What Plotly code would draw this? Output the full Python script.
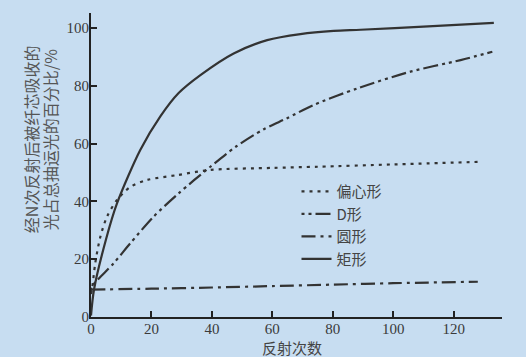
import plotly.graph_objects as go

# Data
names = ["偏心形", "D形", "圆形", "矩形"]

x_ecc = [0, 0.3, 1.4, 3.1, 5.3, 8.6, 13, 18.5, 28.5, 39.5, 60, 75, 100, 129]
y_ecc = [8, 9.3, 18.6, 27.8, 34.7, 40.5, 45, 47.4, 49.1, 50.9, 51.6, 52, 52.8, 53.7]

x_d = [0, 0.3, 7.5, 13, 20.7, 29, 39.5, 48, 57.2, 64.9, 73.7, 88.1, 105.7, 122.3, 132.8]
y_d = [9, 10.5, 18.6, 25.5, 34.7, 42.8, 52, 59, 65, 68.8, 73.4, 79.1, 84.9, 88.9, 91.8]

x_circ = [0, 20, 40, 60, 80, 100, 128]
y_circ = [9.5, 9.8, 10.2, 10.7, 11.2, 11.7, 12.2]

x_rect = [0, 1, 5, 8.6, 16.3, 23, 29, 36.2, 47.2, 58.3, 69.3, 80.3, 89.2, 110, 133.3]
y_rect = [0.5, 9.5, 27, 39.3, 57.8, 69.5, 77.5, 83.7, 91.2, 95.8, 97.9, 99, 99.4, 100.5, 101.8]

x_ticks = [0, 20, 40, 60, 80, 100, 120]
y_ticks = [0, 20, 40, 60, 80, 100]

x_title = "反射次数"
y_title_lines = ["经N次反射后被纤芯吸收的", "光占总抽运光的百分比/%"]

ink = "#333333"
bg = "#c7ddf1"
dashes = ["3px,5px", "3px,4px,3px,4px,15px,4px", "14px,5px,3px,5px", "solid"]
series = [(x_ecc, y_ecc), (x_d, y_d), (x_circ, y_circ), (x_rect, y_rect)]

fig = go.Figure()
for name, (xs, ys), dash in zip(names, series, dashes):
    fig.add_trace(go.Scatter(
        x=xs, y=ys, mode="lines", name=name,
        line=dict(color=ink, width=2.2, dash=dash, shape="spline", smoothing=0.8),
    ))

axis_common = dict(
    showline=True, linecolor="#222222", linewidth=2,
    ticks="inside", ticklen=6, tickwidth=1.5, tickcolor="#222222",
    showgrid=False, zeroline=False, ticklabelstandoff=-3,
    tickfont=dict(family="Liberation Serif", size=15, color="#3a3a3a"),
)

annotations = [
    dict(text=x_title, xref="paper", yref="paper", x=0.49, y=-0.1,
         xanchor="center", yanchor="middle", showarrow=False, borderpad=0,
         font=dict(family="Noto Sans CJK SC", size=15, color="#444444")),
]
for line_text, px in zip(y_title_lines, [-0.146, -0.0998]):
    annotations.append(dict(
        text=line_text, xref="paper", yref="paper", x=px, y=0.585,
        xanchor="center", yanchor="middle", showarrow=False, textangle=-90,
        font=dict(family="Noto Sans CJK SC", size=16, color="#555555")))

fig.update_layout(
    width=526, height=357,
    margin=dict(l=91, r=24, t=13, b=40),
    paper_bgcolor=bg, plot_bgcolor=bg,
    showlegend=True,
    legend=dict(
        x=0.5, y=0.467, xanchor="left", yanchor="top",
        bgcolor="rgba(0,0,0,0)",
        font=dict(family="Noto Sans CJK SC", size=15, color="#444444"),
        tracegroupgap=0, itemwidth=30,
    ),
    xaxis=dict(range=[0, 136], tickvals=x_ticks, **axis_common),
    yaxis=dict(range=[0, 105.2], tickvals=y_ticks, **axis_common),
    annotations=annotations,
)

fig.write_html(
    "out.html",
    config={"displayModeBar": False},
    post_script="document.body.style.margin='0';document.body.style.background='%s';" % bg,
)
